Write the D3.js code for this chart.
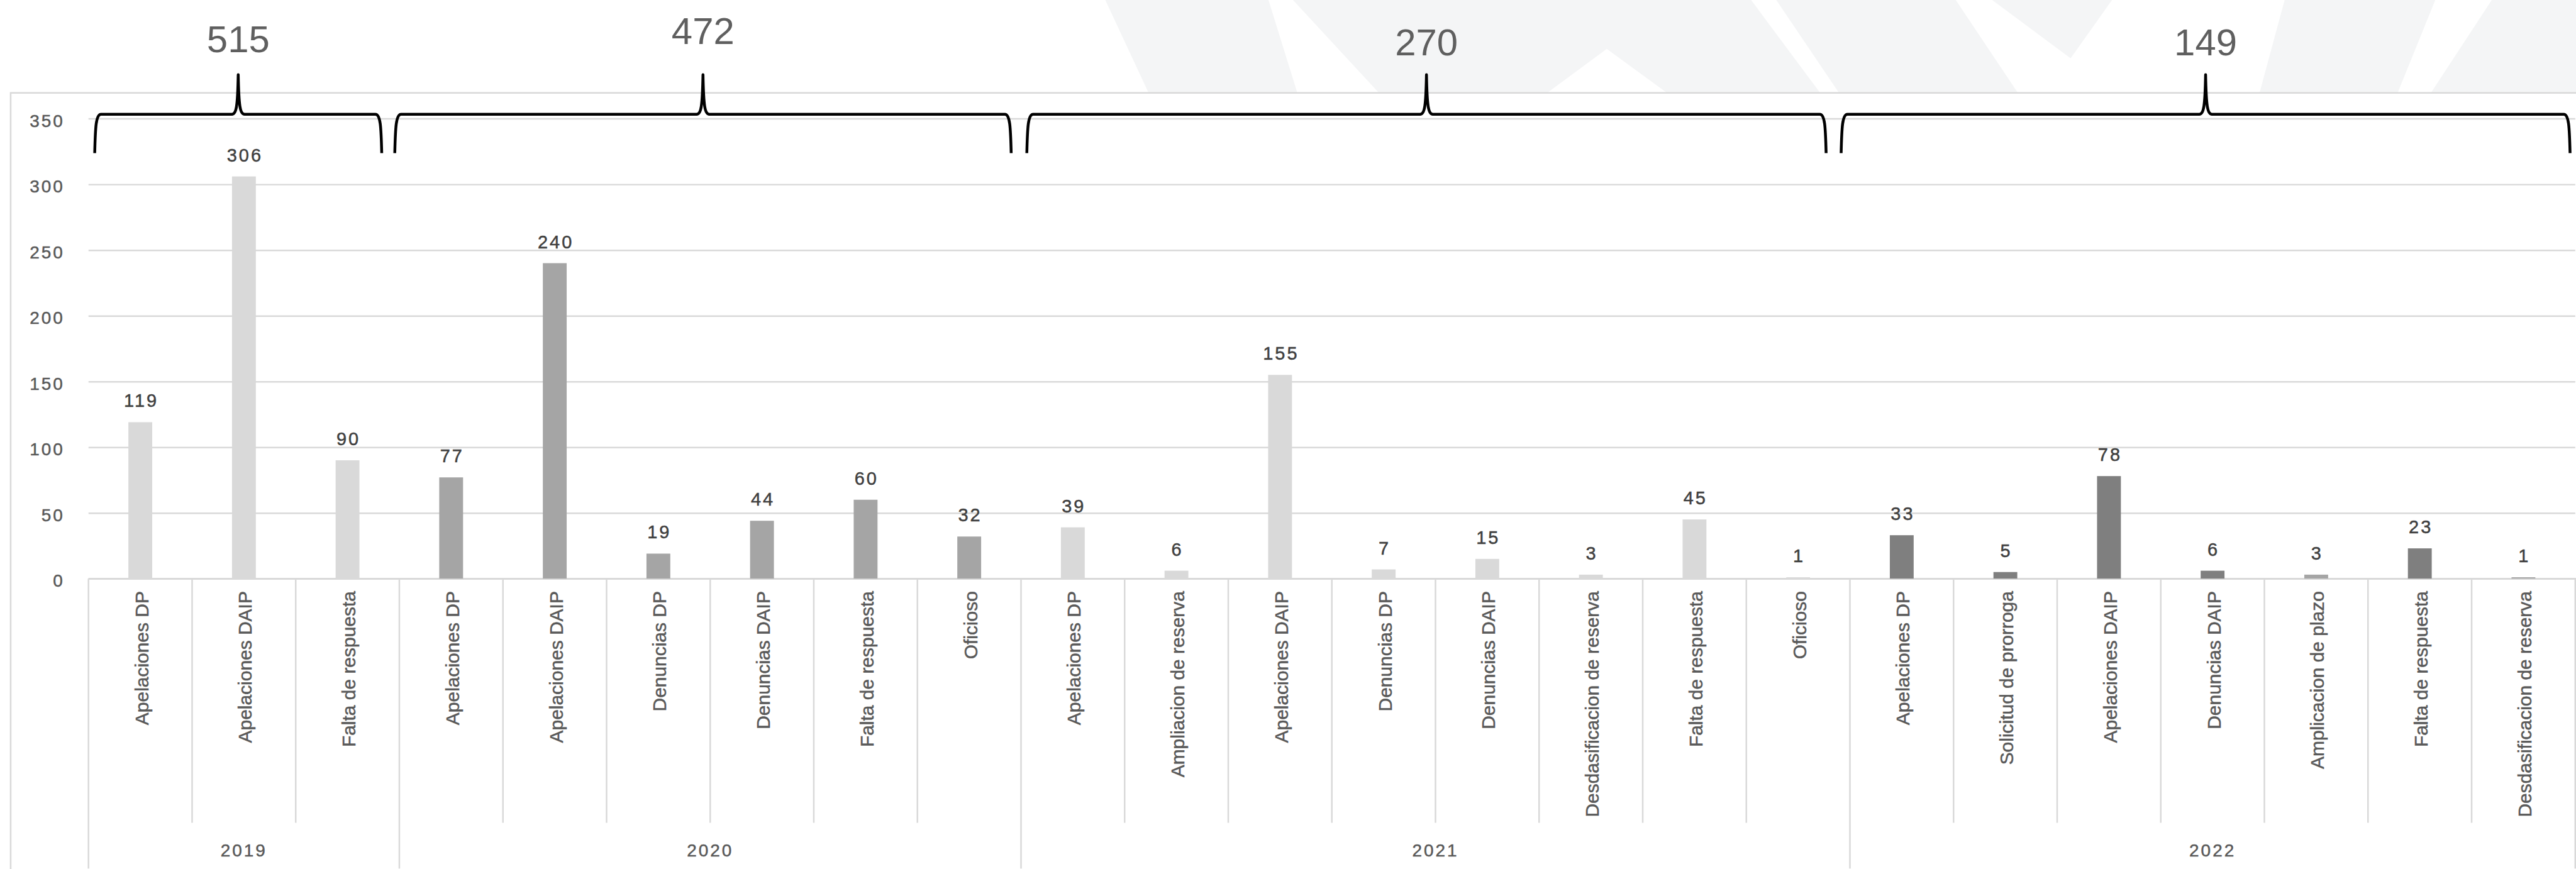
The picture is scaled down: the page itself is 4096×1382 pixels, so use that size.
<!DOCTYPE html>
<html>
<head>
<meta charset="utf-8">
<script src="https://cdn.jsdelivr.net/npm/d3@7"></script>
<style>
  html, body { margin: 0; padding: 0; background: #ffffff; overflow: hidden; }
  svg { display: block; }
</style>
</head>
<body>
<svg id="chart" width="4096" height="1382"></svg>
<script>
// ---------------- DATA ----------------
const groups = ["2019", "2020", "2021", "2022"];
const groupTotals = [515, 472, 270, 149];
const categories = [
  "Apelaciones DP", "Apelaciones DAIP", "Falta de respuesta",
  "Apelaciones DP", "Apelaciones DAIP", "Denuncias DP", "Denuncias DAIP", "Falta de respuesta", "Oficioso",
  "Apelaciones DP", "Ampliacion de reserva", "Apelaciones DAIP", "Denuncias DP", "Denuncias DAIP", "Desdasificacion de reserva", "Falta de respuesta", "Oficioso",
  "Apelaciones DP", "Solicitud de prorroga", "Apelaciones DAIP", "Denuncias DAIP", "Amplicacion de plazo", "Falta de respuesta", "Desdasificacion de reserva"
];
const categoryYear = [
  "2019", "2019", "2019",
  "2020", "2020", "2020", "2020", "2020", "2020",
  "2021", "2021", "2021", "2021", "2021", "2021", "2021", "2021",
  "2022", "2022", "2022", "2022", "2022", "2022", "2022"
];
const values = [
  119, 306, 90,
  77, 240, 19, 44, 60, 32,
  39, 6, 155, 7, 15, 3, 45, 1,
  33, 5, 78, 6, 3, 23, 1
];
const yTicks = [0, 50, 100, 150, 200, 250, 300, 350];

// ---------------- LAYOUT (reference pixel space, scaled by 0.998) ----------------
const S = 0.998;
const L = { left: 141, right: 4103, top0: 189, base: 922, frameX: 17, frameY: 148, bottom: 1384 };
const FONT = "'Liberation Sans', Arial, sans-serif";

const svg = d3.select("#chart");
const root = svg.append("g").attr("transform", `scale(${S})`);

// faint watermark above chart frame
const wmColor = "#f4f5f6";
const wm = [
  [[1761,0],[2021,0],[2067,148],[1830,148]],
  [[2060,0],[2790,0],[2900,148],[2656,148],[2560,78],[2465,148],[2197,148]],
  [[2830,0],[3116,0],[3215,148],[2930,148]],
  [[3174,0],[3365,0],[3299,93]],
  [[3640,0],[3880,0],[3820,148],[3600,148]],
  [[3970,0],[4110,0],[4110,148],[3873,148]]
];
root.append("g").selectAll("polygon").data(wm).join("polygon")
  .attr("points", d => d.map(p => p.join(",")).join(" "))
  .attr("fill", wmColor);

// chart frame
root.append("rect")
  .attr("x", L.frameX).attr("y", L.frameY)
  .attr("width", 4200).attr("height", 1400)
  .attr("fill", "#ffffff").attr("stroke", "#d9d9d9").attr("stroke-width", 2.5);

const n = categories.length;
const idx = d3.range(n);
const pad = 0.77;
const x = d3.scaleBand().domain(idx).range([L.left, L.right]).paddingInner(pad).paddingOuter(pad / 2);
const step = x.step();
const edge = i => L.left + i * step;       // category boundary position
const y = d3.scaleLinear().domain([0, 350]).range([L.base, L.top0]);

// y axis with gridlines
const yAxis = d3.axisLeft(y).tickValues(yTicks).tickSize(-(L.right - L.left)).tickPadding(38);
const yg = root.append("g").attr("transform", `translate(${L.left},0)`).call(yAxis);
yg.select(".domain").remove();
yg.selectAll(".tick line").attr("stroke", "#d9d9d9").attr("stroke-width", 2.5);
yg.selectAll(".tick text")
  .attr("fill", "#595959")
  .attr("stroke", "#595959").attr("stroke-width", 0.5)
  .attr("font-family", FONT)
  .attr("font-size", 28)
  .attr("letter-spacing", 3)
  .attr("dy", "0.45em");

// x axis baseline
root.append("line")
  .attr("x1", L.left).attr("x2", L.right + 20)
  .attr("y1", y(0)).attr("y2", y(0))
  .attr("stroke", "#d9d9d9").attr("stroke-width", 2.5);

// category dividers
const groupStarts = [];
categoryYear.forEach((g, i) => { if (i === 0 || categoryYear[i - 1] !== g) groupStarts.push(i); });
const groupBounds = groupStarts.concat([n]);
root.append("g").selectAll("line").data(d3.range(n + 1)).join("line")
  .attr("x1", i => edge(i)).attr("x2", i => edge(i))
  .attr("y1", y(0))
  .attr("y2", i => groupBounds.includes(i) ? L.bottom : 1311)
  .attr("stroke", "#d9d9d9").attr("stroke-width", 2.5);

// bar colours by year (style)
const yearColor = d3.scaleOrdinal().domain(groups).range(["#d9d9d9", "#a5a5a5", "#d9d9d9", "#7f7f7f"]);
const barColor = i => {
  if (categoryYear[i] === "2022" && (categories[i] === "Amplicacion de plazo" || categories[i] === "Desdasificacion de reserva")) return "#a5a5a5";
  return yearColor(categoryYear[i]);
};

// bars
root.append("g").selectAll("rect").data(idx).join("rect")
  .attr("x", i => x(i))
  .attr("width", x.bandwidth())
  .attr("y", i => y(values[i]))
  .attr("height", i => y(0) - y(values[i]))
  .attr("fill", i => barColor(i));

// value labels
root.append("g").selectAll("text").data(idx).join("text")
  .attr("x", i => x(i) + x.bandwidth() / 2 + 1.5)
  .attr("y", i => y(values[i]) - 24)
  .attr("text-anchor", "middle")
  .attr("fill", "#404040")
  .attr("stroke", "#404040").attr("stroke-width", 0.5)
  .attr("font-family", FONT)
  .attr("font-size", 29)
  .attr("letter-spacing", 3)
  .text(i => values[i]);

// category labels (rotated)
root.append("g").selectAll("text").data(idx).join("text")
  .attr("transform", i => `translate(${x(i) + x.bandwidth() / 2 + 2},942) rotate(-90)`)
  .attr("text-anchor", "end")
  .attr("dy", "0.35em")
  .attr("fill", "#595959")
  .attr("stroke", "#595959").attr("stroke-width", 0.5)
  .attr("font-family", FONT)
  .attr("font-size", 30)
  .text(i => categories[i]);

// year labels
root.append("g").selectAll("text").data(groups).join("text")
  .attr("x", (g, k) => (edge(groupBounds[k]) + edge(groupBounds[k + 1])) / 2)
  .attr("y", 1365)
  .attr("text-anchor", "middle")
  .attr("fill", "#595959")
  .attr("stroke", "#595959").attr("stroke-width", 0.5)
  .attr("font-family", FONT)
  .attr("font-size", 28)
  .attr("letter-spacing", 3)
  .text(g => g);

// braces with group totals (annotation spans in category units)
const braceSpans = [[0.06, 2.83], [2.956, 8.905], [9.056, 16.77], [16.915, 23.95]];
const totalBaselines = [83, 70, 88, 88];
const yh = 182, yb = 244, yt = 119;
function bracePath(x0, x1) {
  const xm = (x0 + x1) / 2;
  return `M${x0},${yb} C${x0 + 1},${yh + 20} ${x0 + 2},${yh} ${x0 + 10},${yh}` +
         ` L${xm - 10},${yh} C${xm - 3},${yh} ${xm - 1},${yh - 12} ${xm},${yt}` +
         ` C${xm + 1},${yh - 12} ${xm + 3},${yh} ${xm + 10},${yh}` +
         ` L${x1 - 10},${yh} C${x1 - 2},${yh} ${x1 - 1},${yh + 20} ${x1},${yb}`;
}
const bg = root.append("g");
bg.selectAll("path").data(braceSpans).join("path")
  .attr("d", s => bracePath(L.left + s[0] * step, L.left + s[1] * step))
  .attr("fill", "none").attr("stroke", "#000000").attr("stroke-width", 4.5)
  .attr("stroke-linejoin", "round");
bg.selectAll("text").data(groupTotals).join("text")
  .attr("x", (t, k) => L.left + (braceSpans[k][0] + braceSpans[k][1]) / 2 * step)
  .attr("y", (t, k) => totalBaselines[k])
  .attr("text-anchor", "middle")
  .attr("fill", "#5f5f5f")
  .attr("font-family", FONT)
  .attr("font-size", 60)
  .text(t => t);
</script>
</body>
</html>
